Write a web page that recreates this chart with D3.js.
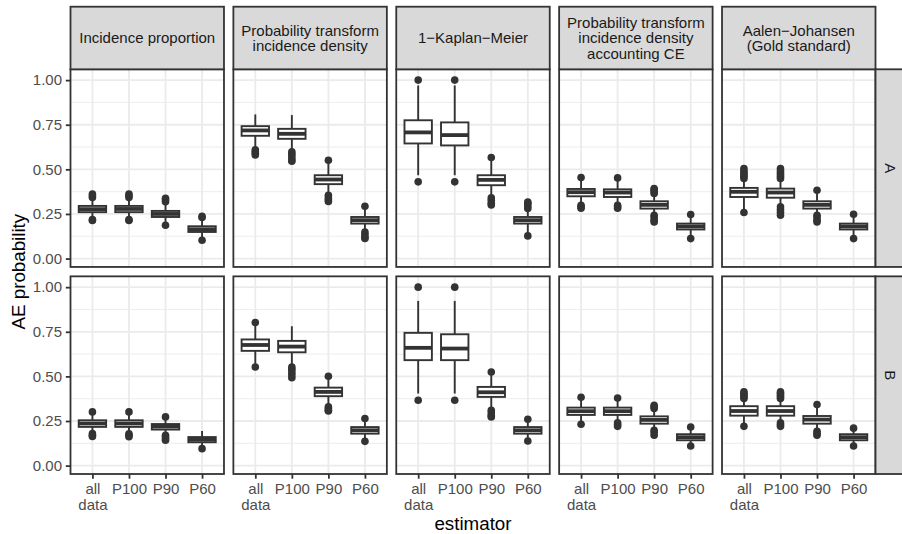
<!DOCTYPE html>
<html><head><meta charset="utf-8">
<script src="https://cdn.jsdelivr.net/npm/d3@7"></script>
<style>
html,body{margin:0;padding:0;background:#fff;overflow:hidden;}
text{font-family:"Liberation Sans",Arial,Helvetica,sans-serif;}
</style></head>
<body>
<script>
// ---------- data ----------
const methods = ["Incidence proportion", "Probability transform\nincidence density", "1\u2212Kaplan\u2212Meier",
  "Probability transform\nincidence density\naccounting CE", "Aalen\u2212Johansen\n(Gold standard)"];
const groups = ["A", "B"];
const estimators = ["all\ndata", "P100", "P90", "P60"];
const yTicks = [0, 0.25, 0.5, 0.75, 1.0];
const yMinor = [0.125, 0.375, 0.625, 0.875];

// box stats per estimator: [lowerWhisker, q1, median, q3, upperWhisker]
const statsA_IP   = [[.225,.26,.277,.295,.335],[.225,.26,.278,.295,.335],[.195,.233,.25,.267,.31],[.11,.149,.164,.181,.225]];
const outA_IP     = [[.213,.218,.342,.352,.362],[.213,.218,.342,.352,.362],[.187,.318,.328,.338],[.103,.23,.237]];
const statsA_PTID = [[.62,.688,.718,.742,.808],[.605,.671,.699,.727,.804],[.365,.417,.443,.467,.545],[.155,.196,.215,.233,.285]];
const outA_PTID   = [[.61,.60,.59,.58],[.598,.585,.57,.555,.545],[.551,.355,.34,.33,.32],[.293,.149,.135,.12,.113]];
const statsA_KM   = [[.467,.645,.707,.775,.97],[.467,.634,.692,.763,.97],[.35,.411,.441,.467,.555],[.14,.196,.215,.233,.275]];
const outA_KM     = [[1.0,.43],[1.0,.43],[.566,.34,.325,.31,.30],[.28,.295,.31,.317,.127]];
const statsA_CE   = [[.30,.349,.372,.39,.44],[.30,.345,.37,.388,.44],[.25,.28,.301,.321,.36],[.12,.163,.18,.196,.24]];
const outA_CE     = [[.454,.298,.29,.282],[.452,.298,.29,.282],[.365,.375,.385,.393,.243,.23,.215,.205],[.247,.112]];
const statsA_AJ   = [[.265,.345,.374,.396,.44],[.295,.341,.37,.392,.44],[.25,.28,.301,.321,.375],[.12,.163,.18,.196,.24]];
const outA_AJ     = [[.449,.46,.47,.48,.49,.505,.258],[.449,.46,.47,.48,.49,.505,.29,.275,.26,.243],[.383,.243,.23,.215,.205],[.248,.112]];

const statsB_IP   = [[.185,.217,.236,.254,.295],[.185,.217,.236,.254,.295],[.175,.202,.219,.233,.268],[.105,.131,.146,.16,.194]];
const outB_IP     = [[.301,.179,.17,.163],[.301,.178,.17,.162],[.273,.17,.16,.15,.142],[.095]];
const statsB_PTID = [[.57,.643,.676,.707,.785],[.56,.635,.667,.699,.781],[.335,.389,.413,.437,.49],[.145,.179,.198,.216,.255]];
const outB_PTID   = [[.802,.553],[.553,.54,.525,.51,.493],[.501,.329,.32,.31,.306],[.264,.136]];
const statsB_KM   = [[.404,.591,.66,.744,.923],[.404,.591,.656,.736,.923],[.32,.385,.411,.441,.515],[.145,.179,.198,.216,.255]];
const outB_KM     = [[1.0,.366],[1.0,.366],[.525,.31,.295,.28,.273],[.26,.138]];
const statsB_CE   = [[.24,.284,.305,.325,.375],[.24,.284,.305,.325,.372],[.205,.235,.256,.276,.315],[.12,.142,.159,.176,.21]];
const outB_CE     = [[.383,.232],[.379,.24,.23,.22],[.32,.33,.338,.198,.185,.17],[.216,.11]];
const statsB_AJ   = [[.23,.28,.306,.333,.37],[.23,.28,.306,.333,.37],[.20,.235,.258,.278,.33],[.12,.142,.159,.176,.205]];
const outB_AJ     = [[.376,.385,.395,.405,.413,.22],[.376,.385,.395,.405,.413,.24,.23,.22],[.342,.192,.18,.17],[.21,.11]];

const statsByGroup = [[statsA_IP, statsA_PTID, statsA_KM, statsA_CE, statsA_AJ],
                      [statsB_IP, statsB_PTID, statsB_KM, statsB_CE, statsB_AJ]];
const outByGroup   = [[outA_IP, outA_PTID, outA_KM, outA_CE, outA_AJ],
                      [outB_IP, outB_PTID, outB_KM, outB_CE, outB_AJ]];

// ---------- layout ----------
const W = 902, H = 534;
const mLeft = 70.5, mRight = 875.5, mTop = 69.3, mBottom = 474;
const gap = 9.4;
const pw = (mRight - mLeft - gap * 4) / 5;
const ph = (mBottom - mTop - gap) / 2;
const lw = 1.9;
const dark = "#333333";

const svg = d3.select("body").append("svg").attr("width", W).attr("height", H)
  .style("background", "#fff").style("display", "block");

const x = d3.scalePoint().domain(estimators).range([0, pw]).padding(0.6);
const y = d3.scaleLinear().domain([-0.047, 1.0606]).range([ph, 0]);
const boxW = 0.75 * x.step();

function multiline(sel, lines, lineH) {
  const x0 = sel.attr("x") || 0;
  sel.text(null);
  lines.forEach((l, i) => sel.append("tspan").attr("x", x0).attr("dy", i === 0 ? 0 : lineH).text(l));
}

groups.forEach((g, r) => {
  methods.forEach((m, c) => {
    const px = mLeft + c * (pw + gap), py = mTop + r * (ph + gap);
    const p = svg.append("g").attr("transform", `translate(${px},${py})`);
    p.append("rect").attr("width", pw).attr("height", ph).attr("fill", "#fff");
    p.selectAll(".mn").data(yMinor).enter().append("line")
      .attr("x1", 0).attr("x2", pw).attr("y1", d => y(d)).attr("y2", d => y(d))
      .attr("stroke", "#EBEBEB").attr("stroke-width", 0.9);
    p.selectAll(".mj").data(yTicks).enter().append("line")
      .attr("x1", 0).attr("x2", pw).attr("y1", d => y(d)).attr("y2", d => y(d))
      .attr("stroke", "#EBEBEB").attr("stroke-width", 1.8);
    p.selectAll(".vx").data(estimators).enter().append("line")
      .attr("x1", d => x(d)).attr("x2", d => x(d)).attr("y1", 0).attr("y2", ph)
      .attr("stroke", "#EBEBEB").attr("stroke-width", 1.8);

    const stats = statsByGroup[r][c], outs = outByGroup[r][c];
    estimators.forEach((e, i) => {
      const s = stats[i], cx = x(e);
      const bg = p.append("g");
      bg.append("line").attr("x1", cx).attr("x2", cx).attr("y1", y(s[3])).attr("y2", y(s[4]))
        .attr("stroke", dark).attr("stroke-width", lw);
      bg.append("line").attr("x1", cx).attr("x2", cx).attr("y1", y(s[1])).attr("y2", y(s[0]))
        .attr("stroke", dark).attr("stroke-width", lw);
      bg.append("rect").attr("x", cx - boxW / 2).attr("width", boxW)
        .attr("y", y(s[3])).attr("height", y(s[1]) - y(s[3]))
        .attr("fill", "#fff").attr("stroke", dark).attr("stroke-width", lw);
      bg.append("line").attr("x1", cx - boxW / 2).attr("x2", cx + boxW / 2)
        .attr("y1", y(s[2])).attr("y2", y(s[2]))
        .attr("stroke", dark).attr("stroke-width", lw * 2);
      bg.selectAll("circle").data(outs[i]).enter().append("circle")
        .attr("cx", cx).attr("cy", d => y(d)).attr("r", 3.8).attr("fill", dark);
    });
    p.append("rect").attr("width", pw).attr("height", ph).attr("fill", "none")
      .attr("stroke", dark).attr("stroke-width", 1.8);

    if (c === 0) {
      const ax = p.append("g").call(d3.axisLeft(y).tickValues(yTicks).tickFormat(d3.format(".2f")).tickSize(4.7).tickPadding(3.8));
      ax.select(".domain").remove();
      ax.selectAll("line").attr("stroke", dark).attr("stroke-width", 1.8);
      ax.selectAll("text").attr("fill", "#4D4D4D").style("font-size", "15px")
        .style("font-family", '"Liberation Sans",Arial,sans-serif');
    }
    if (r === 1) {
      const ax = p.append("g").attr("transform", `translate(0,${ph})`)
        .call(d3.axisBottom(x).tickSize(4.7).tickPadding(0));
      ax.select(".domain").remove();
      ax.selectAll("line").attr("stroke", dark).attr("stroke-width", 1.8);
      ax.selectAll("text").attr("fill", "#4D4D4D").style("font-size", "15px")
        .style("font-family", '"Liberation Sans",Arial,sans-serif')
        .attr("y", 20).attr("dy", null)
        .each(function (d) { multiline(d3.select(this).attr("x", 0), d.split("\n"), 15.7); });
    }
    if (r === 0) {
      const st = svg.append("g").attr("transform", `translate(${px},6.7)`);
      const sh = mTop - 6.7;
      st.append("rect").attr("width", pw).attr("height", sh).attr("fill", "#D9D9D9")
        .attr("stroke", dark).attr("stroke-width", 1.8);
      const lines = m.split("\n");
      const t = st.append("text").attr("x", pw / 2).attr("text-anchor", "middle")
        .attr("y", sh / 2 - (lines.length - 1) * 15.5 / 2 + 5.5)
        .attr("fill", "#1A1A1A").style("font-size", "15px");
      multiline(t, lines, 15.5);
    }
  });
  const py = mTop + r * (ph + gap);
  const rs = svg.append("g").attr("transform", `translate(${mRight},${py})`);
  rs.append("rect").attr("width", 30).attr("height", ph).attr("fill", "#D9D9D9")
    .attr("stroke", dark).attr("stroke-width", 1.8);
  rs.append("text").attr("transform", `translate(15,${ph / 2}) rotate(90)`)
    .attr("text-anchor", "middle").attr("dy", "0.36em")
    .attr("fill", "#1A1A1A").style("font-size", "15px").text(g);
});

svg.append("text").attr("x", (mLeft + mRight) / 2).attr("y", 530).attr("text-anchor", "middle")
  .style("font-size", "18.75px").attr("fill", "#000").text("estimator");
svg.append("text").attr("transform", `translate(18.3,${(mTop + mBottom) / 2}) rotate(-90)`)
  .attr("text-anchor", "middle").attr("dy", "0.36em")
  .style("font-size", "18.75px").attr("fill", "#000").text("AE probability");
</script>
</body></html>
